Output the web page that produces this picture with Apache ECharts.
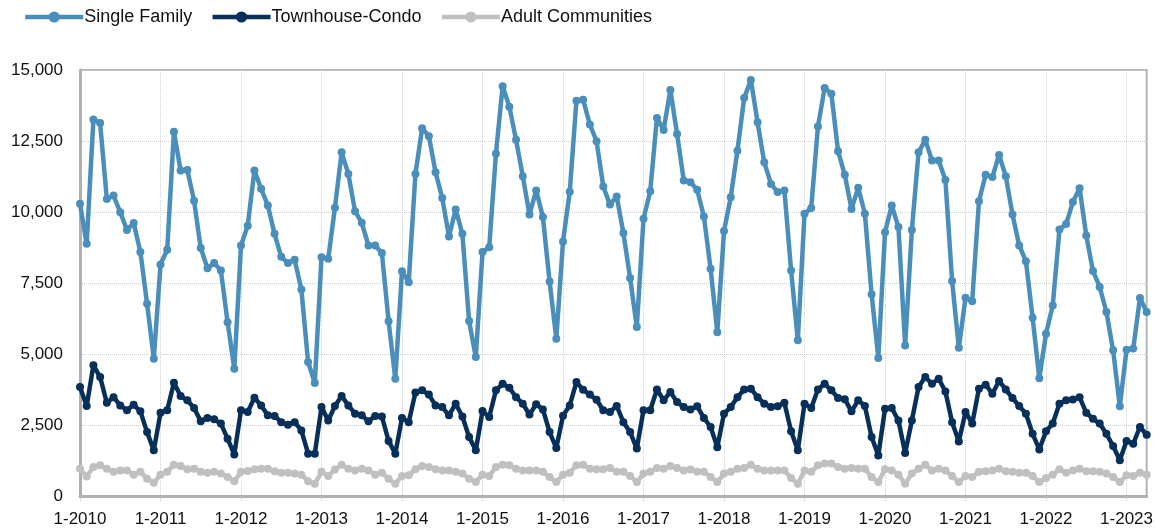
<!DOCTYPE html>
<html style="height: 100%">
<head>
  <meta charset="UTF-8">
  <title>Closed Sales</title>
  <script src="https://cdn.jsdelivr.net/npm/echarts@6/dist/echarts.min.js"></script>
</head>
<body style="height: 100%; margin: 0; background: #fff">
<div id="main" style="width: 1156px; height: 531px"></div>

<script>
  // monthly values, Jan 2010 .. Apr 2023
  const startYear = 2010;
  const singleFamily = [
    10290, 8880, 13260, 13130, 10460, 10580, 9990, 9370, 9610, 8590, 6770, 4830,
    8150, 8670, 12830, 11460, 11480, 10400, 8730, 8020, 8200, 7940, 6120, 4480,
    8820, 9520, 11460, 10820, 10230, 9230, 8420, 8200, 8320, 7270, 4720, 3980,
    8410, 8350, 10150, 12100, 11340, 10030, 9620, 8820, 8820, 8560, 6150, 4130,
    7910, 7530, 11340, 12950, 12670, 11400, 10490, 9140, 10090, 9230, 6160, 4890,
    8590, 8760, 12050, 14430, 13710, 12540, 11260, 9910, 10760, 9820, 7550, 5540,
    8960, 10710, 13920, 13950, 13080, 12490, 10900, 10260, 10550, 9260, 7680, 5950,
    9760, 10730, 13310, 12890, 14300, 12750, 11110, 11050, 10780, 9840, 8000, 5770,
    9330, 10520, 12160, 14010, 14650, 13160, 11750, 10990, 10700, 10760, 7940, 5480,
    9940, 10140, 13010, 14370, 14160, 12140, 11310, 10110, 10850, 9940, 7100, 4860,
    9290, 10230, 9470, 5300, 9370, 12100, 12540, 11810, 11810, 11130, 7570, 5220,
    6980, 6860, 10380, 11310, 11230, 12010, 11260, 9910, 8820, 8270, 6280, 4150,
    5710, 6710, 9380, 9580, 10350, 10840, 9170, 7920, 7360, 6480, 5130, 3160,
    5150, 5190, 6970, 6480
  ];
  const townhouseCondo = [
    3840, 3170, 4600, 4190, 3280, 3480, 3190, 3020, 3210, 2980, 2250, 1610,
    2930, 3020, 3990, 3520, 3370, 3100, 2630, 2750, 2700, 2550, 2020, 1460,
    3020, 2960, 3460, 3190, 2840, 2820, 2600, 2510, 2600, 2310, 1490, 1490,
    3130, 2660, 3170, 3520, 3190, 2900, 2840, 2630, 2820, 2800, 1940, 1490,
    2750, 2600, 3640, 3720, 3570, 3190, 3130, 2840, 3250, 2800, 2080, 1610,
    2990, 2780, 3720, 3950, 3810, 3480, 3250, 2870, 3230, 3050, 2250, 1690,
    2830, 3190, 4010, 3740, 3570, 3390, 3020, 2960, 3170, 2600, 2250, 1670,
    3020, 3020, 3750, 3370, 3660, 3310, 3130, 3050, 3160, 2750, 2430, 1720,
    2900, 3130, 3480, 3750, 3780, 3480, 3250, 3130, 3160, 3280, 2280, 1610,
    3250, 3100, 3750, 3950, 3720, 3450, 3410, 2980, 3370, 3170, 2080, 1430,
    3070, 3100, 2660, 1510, 2660, 3840, 4190, 3950, 4130, 3680, 2600, 1920,
    2960, 2550, 3780, 3920, 3600, 4050, 3750, 3450, 3170, 2900, 2190, 1640,
    2280, 2550, 3250, 3370, 3400, 3480, 2930, 2720, 2550, 2190, 1760, 1260,
    1940, 1840, 2430, 2160
  ];
  const adultCommunities = [
    960, 690, 1020, 1080, 960, 850, 900, 900, 750, 850, 610, 470,
    750, 850, 1100, 1060, 940, 960, 850, 820, 850, 790, 670, 520,
    850, 880, 940, 960, 960, 870, 820, 820, 790, 750, 520, 430,
    850, 700, 930, 1100, 960, 900, 960, 900, 750, 820, 610, 430,
    700, 730, 940, 1060, 1020, 940, 900, 900, 850, 790, 610, 490,
    750, 700, 1020, 1100, 1080, 960, 900, 900, 900, 850, 670, 490,
    750, 820, 1080, 1100, 960, 940, 940, 990, 850, 850, 700, 490,
    790, 850, 990, 960, 1060, 990, 900, 930, 850, 850, 670, 490,
    790, 850, 960, 990, 1100, 960, 900, 900, 900, 900, 630, 430,
    900, 850, 1080, 1140, 1140, 1020, 960, 990, 960, 960, 670, 490,
    940, 900, 750, 430, 790, 960, 1100, 900, 960, 900, 700, 490,
    700, 670, 850, 870, 900, 960, 870, 850, 820, 820, 700, 490,
    630, 750, 940, 820, 900, 960, 870, 870, 850, 790, 670, 490,
    730, 700, 820, 750
  ];

  // category labels like "1-2010"
  const months = [];
  for (let i = 0; i < singleFamily.length; i++) {
    months.push((i % 12 + 1) + '-' + (startYear + Math.floor(i / 12)));
  }
  const yearTick = (idx) => idx % 12 === 0;

  const font = 'Liberation Sans, Arial, Helvetica, sans-serif';

  function lineSeries(name, data, color) {
    return {
      name: name,
      type: 'line',
      data: data,
      symbol: 'circle',
      symbolSize: 8,
      showAllSymbol: true,
      lineStyle: { width: 4.5, color: color },
      itemStyle: { color: color },
      emphasis: { disabled: true }
    };
  }

  const option = {
    animation: false,
    textStyle: { fontFamily: font },
    legend: {
      left: 18,
      top: 3,
      itemWidth: 58,
      itemHeight: 14,
      itemGap: 18,
      lineStyle: { width: 4.5 },
      textStyle: { fontSize: 18, color: '#111', fontFamily: font, padding: [0, 0, 0, -4] },
      data: ['Single Family', 'Townhouse-Condo', 'Adult Communities']
    },
    grid: {
      left: 80,
      right: 5,
      top: 70,
      bottom: 35,
      show: true,
      borderColor: '#b4b4b4',
      borderWidth: 2
    },
    xAxis: {
      type: 'category',
      data: months,
      boundaryGap: false,
      axisLine: { lineStyle: { color: '#b0b0b0', width: 3 } },
      axisTick: {
        interval: yearTick,
        length: 6,
        lineStyle: { color: '#c4c4c4', type: 'dotted' }
      },
      axisLabel: {
        interval: yearTick,
        margin: 15,
        fontSize: 17,
        color: '#111',
        fontFamily: font
      },
      splitLine: {
        show: true,
        interval: yearTick,
        lineStyle: { color: '#cfcfcf', type: 'dotted', width: 1 }
      }
    },
    yAxis: {
      type: 'value',
      min: 0,
      max: 15000,
      interval: 2500,
      axisLine: { show: true, lineStyle: { color: '#b0b0b0', width: 3 } },
      axisTick: { show: false },
      axisLabel: {
        margin: 17,
        fontSize: 17,
        color: '#111',
        fontFamily: font,
        formatter: (v) => v.toLocaleString('en-US')
      },
      splitLine: { lineStyle: { color: '#cfcfcf', type: 'dotted', width: 1 } }
    },
    series: [
      lineSeries('Adult Communities', adultCommunities, '#c0c0c0'),
      lineSeries('Townhouse-Condo', townhouseCondo, '#06305a'),
      lineSeries('Single Family', singleFamily, '#4a8fbb')
    ]
  };

  const chart = echarts.init(document.getElementById('main'));
  chart.setOption(option);
</script>
</body>
</html>
